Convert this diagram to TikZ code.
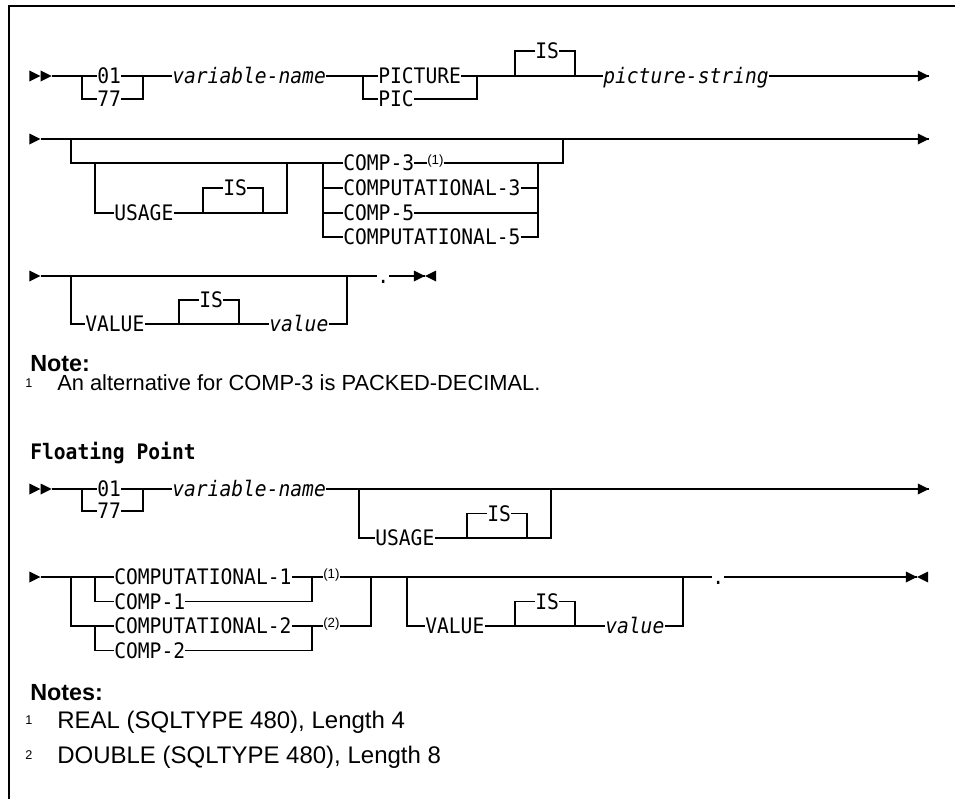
\documentclass[tikz,border=0pt]{standalone}
\usepackage{fontspec}
\setmainfont{Liberation Sans}
\newfontfamily\railfont[FakeStretch=0.92]{DejaVu Sans Mono}
\newcommand{\fwdtip}[1]{\fill (#1) -- ++(-11.2,-5.5) -- ++(0,11) -- cycle;}
\newcommand{\backtip}[1]{\fill (#1) -- ++(11.2,-5.5) -- ++(0,11) -- cycle;}
\tikzset{
  rail/.style={line width=1pt},
  kw/.style={
    font=\railfont\fontsize{16}{18}\selectfont,
    inner sep=0pt,
    anchor=west,
    text height=11.6pt,
    text depth=0pt
  },
  ital/.style={kw, font=\railfont\itshape\fontsize{16}{18}\selectfont},
  fnref/.style={font=\fontsize{10}{12}\selectfont, inner sep=0pt, anchor=base west},
  heading/.style={font=\railfont\bfseries\fontsize{16}{18}\selectfont, inner sep=0pt, anchor=base west},
  notehead/.style={font=\bfseries\fontsize{17.5}{20}\selectfont, inner sep=0pt, anchor=base west},
  notetext/.style={font=\fontsize{18}{20}\selectfont, inner sep=0pt, anchor=base west},
  notemark/.style={font=\fontsize{9.5}{11}\selectfont, inner sep=0pt, anchor=base west}
}
\begin{document}
\begin{tikzpicture}[x=0.75pt, y=-0.75pt]
  \useasboundingbox (0,0) rectangle (955,799);
  \draw[line width=1.1pt] (955,6) -- (9,6) -- (9,799);

  % packed decimal, first line
  \node[kw] (a01) at (97,76) {01};
  \node[kw] (a77) at (97,99) {77};
  \node[ital] (avar) at (172,76) {variable-name};
  \node[kw] (apicture) at (378,76) {PICTURE};
  \node[kw] (apic) at (378,99) {PIC};
  \node[kw] (ais) at (535,51) {IS};
  \node[ital] (astr) at (603,76) {picture-string};
  \coordinate (a0) at (51.7,76);
  \coordinate (aend) at (929,76);
  \fwdtip{40.5,76} \fwdtip{51.7,76} \fwdtip{929,76}
  \draw[rail] (a0) -- (a01.west)
    (82,76) |- (a77.west)
    (a77.east) -| (143,76)
    (a01.east) -- (avar.west)
    (avar.east) -- (apicture.west)
    (363,76) |- (apic.west)
    (apic.east) -| (477,76)
    (apicture.east) -- (astr.west)
    (515,76) |- (ais.west)
    (ais.east) -| (575,76)
    (astr.east) -- (aend);

  % second line
  \node[kw] (busage) at (114,213) {USAGE};
  \node[kw] (bis) at (223,188) {IS};
  \node[kw] (bcomp3) at (343,163) {COMP-3};
  \node[fnref] (bref) at (427,164.5) {(1)};
  \node[kw] (bcomputa3) at (343,188) {COMPUTATIONAL-3};
  \node[kw] (bcomp5) at (343,213) {COMP-5};
  \node[kw] (bcomputa5) at (343,237) {COMPUTATIONAL-5};
  \coordinate (b0) at (40.5,139);
  \coordinate (bend) at (929,139);
  \fwdtip{40.5,139} \fwdtip{929,139}
  \draw[rail] (b0) -- (bend)
    (71,139) |- (bcomp3.west)
    (95,163) |- (busage.west)
    (busage.east) -- (287,213) -- (287,163)
    (203,213) |- (bis.west)
    (bis.east) -| (263,213)
    (323,163) |- (bcomputa5.west)
    (323,188) -- (bcomputa3.west)
    (323,213) -- (bcomp5.west)
    (bcomp3.east) -- (bcomp3.east -| bref.west)
    (bcomp3.east -| bref.east) -- (563,163) -- (563,139)
    (bcomputa3.east) -- (538,188)
    (bcomp5.east) -- (538,213)
    (bcomputa5.east) -| (538,163);

  % third line
  \node[kw] (cvalue) at (85,324) {VALUE};
  \node[kw] (cis) at (199,300) {IS};
  \node[ital] (cval) at (269,324) {value};
  \node[kw] (cdot) at (377,276) {.};
  \coordinate (c0) at (40.5,276);
  \coordinate (cend) at (425,276);
  \fwdtip{40.5,276} \fwdtip{425,276} \backtip{425,276}
  \draw[rail] (c0) -- (cdot.west)
    (cdot.east) -- (cend)
    (71,276) |- (cvalue.west)
    (cvalue.east) -- (cval.west)
    (179,324) |- (cis.west)
    (cis.east) -| (239,324)
    (cval.east) -| (347,276);

  \node[notehead] (note1) at (30,371) {Note:};
  \node[notemark] (m1) at (25,387) {1};
  \node[notetext, font=\fontsize{16.4}{20}\selectfont] (n1) at (57,390.5) {An alternative for COMP-3 is PACKED-DECIMAL.};

  % floating point
  \node[heading] (fp) at (30,459) {Floating Point};

  \node[kw] (d01) at (97,489) {01};
  \node[kw] (d77) at (97,511) {77};
  \node[ital] (dvar) at (172,489) {variable-name};
  \node[kw] (dusage) at (375,538) {USAGE};
  \node[kw] (dis) at (487,513.5) {IS};
  \coordinate (d0) at (51.7,489);
  \coordinate (dend) at (929,489);
  \fwdtip{40.5,489} \fwdtip{51.7,489} \fwdtip{929,489}
  \draw[rail] (d0) -- (d01.west)
    (82,489) |- (d77.west)
    (d77.east) -| (143,489)
    (d01.east) -- (dvar.west)
    (dvar.east) -- (dend)
    (359,489) |- (dusage.west)
    (dusage.east) -- (551,538) -- (551,489)
    (467,538) |- (dis.west)
    (dis.east) -| (527,538);

  \node[kw] (ecomputa1) at (114,577) {COMPUTATIONAL-1};
  \node[kw] (ecomp1) at (114,601.5) {COMP-1};
  \node[kw] (ecomputa2) at (114,626) {COMPUTATIONAL-2};
  \node[kw] (ecomp2) at (114,650.5) {COMP-2};
  \node[fnref] (eref1) at (323,578.5) {(1)};
  \node[fnref] (eref2) at (323,627.5) {(2)};
  \node[kw] (evalue) at (425,626) {VALUE};
  \node[kw] (eis) at (535,601.5) {IS};
  \node[ital] (eval) at (605,626) {value};
  \node[kw] (edot) at (712,577) {.};
  \coordinate (e0) at (40.5,577);
  \coordinate (eend) at (917,577);
  \fwdtip{40.5,577} \fwdtip{917,577} \backtip{917,577}
  \draw[rail] (e0) -- (ecomputa1.west)
    (71,577) |- (ecomputa2.west)
    (95,577) |- (ecomp1.west)
    (95,626) |- (ecomp2.west)
    (ecomputa1.east) -- (ecomputa1.east -| eref1.west)
    (ecomp1.east) -| (312,577)
    (ecomputa1.east -| eref1.east) -- (edot.west)
    (ecomputa2.east) -- (ecomputa2.east -| eref2.west)
    (ecomp2.east) -| (312,626)
    (ecomputa2.east -| eref2.east) -| (371,577)
    (407,577) |- (evalue.west)
    (evalue.east) -- (eval.west)
    (515,626) |- (eis.west)
    (eis.east) -| (575,626)
    (eval.east) -| (683,577)
    (edot.east) -- (eend);

  \node[notehead] (note2) at (30,700) {Notes:};
  \node[notemark] (m2a) at (25,724) {1};
  \node[notetext] (n2a) at (57,728) {REAL (SQLTYPE 480), Length 4};
  \node[notemark] (m2b) at (25,759) {2};
  \node[notetext] (n2b) at (57,763) {DOUBLE (SQLTYPE 480), Length 8};
\end{tikzpicture}
\end{document}
